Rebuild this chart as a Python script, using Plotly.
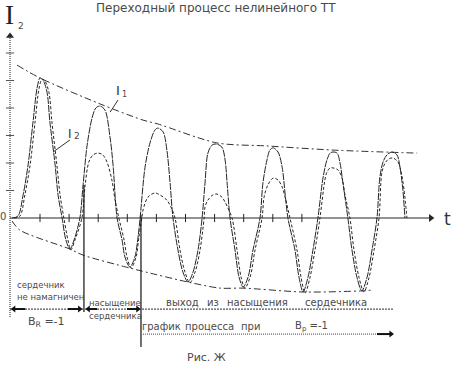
import plotly.graph_objects as go

# ---------------- data (t in ms, current in relative units) ----------------
title_text = "Переходный процесс нелинейного ТТ"

i1_t = [0.4, 2.4, 4.2, 5.9, 7.6, 9.0, 10.0, 11.0, 12.4, 13.4, 15.2, 16.2, 17.6,
        18.9, 20.3, 21.7, 23.7,
        24.8, 26.2, 27.9, 29.2, 30.6, 32.3, 34.1, 35.1, 36.5,
        38.2, 39.2, 40.9, 42.6, 43.7, 44.4,
        46.1, 47.8, 49.5, 50.5, 52.3, 53.6, 54.7, 55.7,
        57.4, 59.1, 60.9, 62.6, 64.3, 65.7,
        66.7, 67.7, 69.1, 70.5, 72.5, 73.6, 74.3, 75.3,
        77.0, 78.4, 79.8, 81.5, 83.2, 85.6,
        86.6, 88.0, 89.0, 90.1, 91.8, 93.2, 94.2, 95.2,
        97.6, 99.0, 100.4, 102.1, 103.8, 105.5,
        107.3, 108.6, 109.7, 110.7, 112.1, 113.1, 114.1, 115.8,
        117.2, 118.9, 120.6, 122.4, 124.1, 125.8,
        126.8, 127.9, 129.2, 131.0, 132.7, 133.7, 134.7, 135.4]
i1_v = [0, 0.07, 0.84, 1.93, 3.49, 4.73, 5.09, 5.02, 4.58, 3.49, 1.93, 0.84, 0,
        -0.8, -1.13, -0.8, 0,
        1.2, 2.65, 3.64, 4.0, 4.07, 3.93, 2.91, 1.93, 0,
        -0.8, -1.42, -1.78, -1.42, -0.69, 0,
        1.85, 2.73, 3.2, 3.27, 3.13, 2.47, 1.27, 0,
        -1.16, -1.96, -2.33, -1.96, -1.16, 0,
        1.27, 2.36, 2.65, 2.69, 2.58, 2.11, 1.27, 0,
        -1.16, -2.15, -2.51, -2.15, -1.16, 0,
        1.27, 2.11, 2.47, 2.55, 2.4, 1.85, 0.91, 0,
        -1.16, -2.15, -2.69, -2.15, -1.16, 0,
        1.49, 2.11, 2.36, 2.4, 2.36, 2.0, 1.27, 0,
        -1.16, -2.15, -2.65, -2.15, -1.16, 0,
        1.49, 2.04, 2.29, 2.4, 2.29, 1.85, 1.02, 0]

i2_t = [1.1, 3.1, 4.8, 6.6, 8.3, 9.7, 10.7, 11.7, 13.1, 14.1, 15.8, 16.9, 18.2,
        19.6, 20.6, 22.0, 24.4,
        25.5, 26.8, 28.2, 29.9, 31.6, 33.0, 34.7, 35.8, 37.1,
        38.9, 39.9, 41.3, 43.0, 44.0, 45.0,
        45.4, 47.1, 49.5, 51.2, 53.6, 55.0, 56.4,
        58.1, 59.8, 61.5, 63.3, 65.0, 66.4,
        66.7, 67.7, 69.4, 70.8, 72.5, 73.6, 74.6, 76.0,
        77.7, 79.1, 80.4, 82.2, 83.9, 86.3,
        87.0, 88.3, 90.1, 91.8, 93.2, 94.2, 95.9,
        98.3, 99.7, 101.1, 102.8, 104.5, 106.2,
        107.9, 108.6, 109.7, 110.7, 112.4, 113.8, 114.8, 116.5,
        117.9, 119.6, 121.3, 123.1, 124.8, 126.5,
        127.5, 128.6, 129.9, 131.3, 133.0, 134.1, 135.1, 136.1]
i2_v = [0, 0.07, 0.84, 1.93, 3.49, 4.73, 5.05, 4.98, 4.55, 3.49, 1.93, 0.84, 0,
        -0.8, -1.16, -0.8, 0,
        1.2, 2.04, 2.29, 2.36, 2.29, 2.04, 1.38, 0.65, 0,
        -0.8, -1.42, -1.82, -1.42, -0.69, 0,
        0.29, 0.76, 0.91, 0.84, 0.65, 0.4, 0,
        -1.16, -1.96, -2.36, -1.96, -1.16, 0,
        0.4, 0.65, 0.84, 0.87, 0.76, 0.58, 0.36, 0,
        -1.16, -2.15, -2.55, -2.15, -1.16, 0,
        0.76, 1.2, 1.45, 1.38, 1.13, 0.76, 0,
        -1.16, -2.15, -2.73, -2.15, -1.16, 0,
        1.38, 1.67, 1.82, 1.82, 1.75, 1.45, 0.84, 0,
        -1.16, -2.15, -2.69, -2.15, -1.16, 0,
        1.67, 2.0, 2.15, 2.18, 2.04, 1.67, 1.02, 0]

env_up_t = [2.1, 10.0, 30.6, 45.4, 50.5, 70.8, 88.0, 110.7, 139.6]
env_up_v = [5.56, 5.09, 4.15, 3.56, 3.42, 2.73, 2.62, 2.47, 2.36]
env_lo_t = [0.4, 3.1, 20.3, 24.8, 40.9, 45.0, 60.9, 71.9, 79.8, 100.4, 120.6, 124.4]
env_lo_v = [-0.11, -0.44, -1.13, -1.35, -1.82, -1.93, -2.33, -2.55, -2.55, -2.69, -2.65, -2.62]

x_ticks = [10, 20, 30, 40, 50, 60, 70, 80, 90, 100]
y_ticks = [1, 2, 3, 4, 5, 6]
stage_bounds = [25.1, 44.7]          # end of "not magnetized", end of "saturation"
t_axis_end = 144.0
t_dim_end = 131.3

stage1_lines = ["сердечник", "не намагничен"]
stage2_lines = ["насыщение", "сердечника"]
stage3_words = ["выход", "из", "насыщения", "сердечника"]
stage3_pos = [58.8, 69.6, 84.9, 111.7]
graph_words = ["график", "процесса", "при", "B<sub>р</sub> =-1"]
graph_pos = [51.9, 68.1, 82.2, 103.4]
br_label = "B<sub>R</sub> =-1"
fig_caption = "Рис. Ж"

# ---------------- figure ----------------
INK = "#262626"
TXT = "#4a4a4a"
fig = go.Figure()


def seg(x, y, color=INK, width=1, dash="solid"):
    fig.add_trace(go.Scatter(x=x, y=y, mode="lines", hoverinfo="skip",
                             line=dict(color=color, width=width, dash=dash)))


def head(x, y, symbol, size=7, color=INK):
    fig.add_trace(go.Scatter(x=[x], y=[y], mode="markers", hoverinfo="skip",
                             marker=dict(symbol=symbol, size=size, color=color)))


y_axis_t = -0.31
# y axis (dotted) + arrow
seg([y_axis_t, y_axis_t], [-3.6, 6.55], color="#6a6a6a", width=1.5, dash="1px,1px")
head(y_axis_t, 6.62, "triangle-up")
for v in y_ticks:
    seg([-1.7, 1.1], [v, v], color="#555", width=1)
# x axis + arrow
seg([y_axis_t, t_axis_end], [0, 0], color=INK, width=1.2)
head(t_axis_end + 0.3, 0, "triangle-right")
for t in x_ticks:
    seg([t, t], [-0.15, 0.15], color=INK, width=1)

# envelopes
for tt, vv in [(env_up_t, env_up_v), (env_lo_t, env_lo_v)]:
    fig.add_trace(go.Scatter(x=tt, y=vv, mode="lines", hoverinfo="skip",
                             line=dict(color="#333", width=1, dash="7px,3px,2px,3px",
                                       shape="spline", smoothing=0.8)))
# currents
fig.add_trace(go.Scatter(x=i1_t, y=i1_v, mode="lines", hoverinfo="skip",
                         line=dict(color=INK, width=1, dash="7px,1px",
                                   shape="spline", smoothing=0.9)))
fig.add_trace(go.Scatter(x=i2_t, y=i2_v, mode="lines", hoverinfo="skip",
                         line=dict(color=INK, width=1, dash="3px,2px",
                                   shape="spline", smoothing=0.9)))

# stage separators
seg([stage_bounds[0], stage_bounds[0]], [1.2, -3.42], color="#111", width=1.2)
seg([stage_bounds[1], stage_bounds[1]], [0.1, -4.69], color="#111", width=1.2)
# dimension lines
seg([y_axis_t, t_dim_end], [-3.31, -3.31], color="#555", width=1.2, dash="2px,1px")
seg([stage_bounds[1], t_dim_end], [-4.22, -4.22], color="#666", width=1.2, dash="1px,1px")

# dimension arrows: thick stroke + head at the tip
for x_tip, x_tail, y, sym in [(1.0, 4.9, -3.31, "triangle-left"),
                              (23.6, 19.6, -3.31, "triangle-right"),
                              (26.6, 29.6, -3.31, "triangle-left"),
                              (43.6, 39.9, -3.31, "triangle-right"),
                              (130.6, 125.8, -4.22, "triangle-right")]:
    seg([x_tip, x_tail], [y, y], color="#111", width=2)
    head(x_tip, y, sym, size=6, color="#111")

annotations = []


def txt(x, y, s, size=10, anchor="left", color=TXT, family="DejaVu Sans"):
    annotations.append(dict(x=x, y=y, xref="x", yref="y", text=s, showarrow=False,
                            xanchor=anchor, yanchor="middle",
                            font=dict(size=size, color=color, family=family)))


txt(70.5, 7.64, title_text, size=12, anchor="center")
txt(-0.48, 7.38, "I", size=27, anchor="center", color="#222", family="Liberation Serif")
txt(3.3, 6.97, "2", size=9, anchor="center")
txt(-2.7, 0.04, "0", size=10, anchor="center")
txt(149.9, -0.02, "t", size=17, anchor="center", color="#333")

# curve labels with leaders
txt(36.8, 4.62, "I", size=13, anchor="center", color="#333")
txt(39.2, 4.5, "1", size=8, anchor="center")
seg([36.8, 34.1], [4.29, 3.85], color="#333", width=1)
txt(20.3, 3.05, "I", size=12, anchor="center", color="#333")
txt(22.8, 2.98, "2", size=9, anchor="center")
seg([20.3, 14.5], [2.84, 2.4], color="#333", width=1)

txt(1.4, -2.44, stage1_lines[0], size=8.5)
txt(1.4, -2.87, stage1_lines[1], size=8.5)
txt(26.0, -3.09, stage2_lines[0], size=8.5)
txt(26.0, -3.56, stage2_lines[1], size=8.5)
for w, p in zip(stage3_words, stage3_pos):
    txt(p, -3.07, w, size=10, anchor="center")
for w, p in zip(graph_words, graph_pos):
    txt(p, -3.93, w, size=10, anchor="center")
txt(12.1, -3.78, br_label, size=11, anchor="center")
txt(67.1, -5.09, fig_caption, size=11, anchor="center")

fig.update_layout(
    width=455, height=365, margin=dict(l=0, r=0, t=0, b=0),
    paper_bgcolor="white", plot_bgcolor="white", showlegend=False,
    xaxis=dict(range=[-3.746, 152.61], visible=False, fixedrange=True),
    yaxis=dict(range=[-5.345, 7.927], visible=False, fixedrange=True),
    annotations=annotations,
)
fig.write_html("out.html")
